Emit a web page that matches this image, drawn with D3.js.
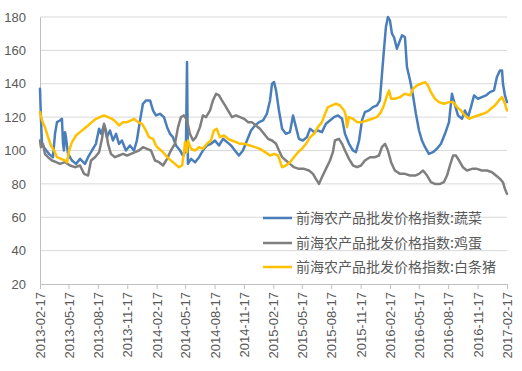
<!DOCTYPE html>
<html>
<head>
<meta charset="utf-8">
<script src="https://cdn.jsdelivr.net/npm/d3@7"></script>
<style>
  body { margin: 0; background: #fff; }
  .tick-label { font-family: "Liberation Sans", Arial, sans-serif; font-size: 13px; fill: #595959; }
  .legend-label { font-family: "Noto Sans CJK SC", sans-serif; font-size: 14px; fill: #595959; }
</style>
</head>
<body>
<svg id="chart"></svg>
<script>
// weeks since 2013-02-17, index value
const startDate = "2013-02-17";

const tickLabels = ["2013-02-17", "2013-05-17", "2013-08-17", "2013-11-17", "2014-02-17",
  "2014-05-17", "2014-08-17", "2014-11-17", "2015-02-17", "2015-05-17", "2015-08-17",
  "2015-11-17", "2016-02-17", "2016-05-17", "2016-08-17", "2016-11-17", "2017-02-17"];

const yTicks = [20, 40, 60, 80, 100, 120, 140, 160, 180];

const seriesNames = ["前海农产品批发价格指数:蔬菜", "前海农产品批发价格指数:鸡蛋", "前海农产品批发价格指数:白条猪"];

const vegetable = [
  [0, 137], [0.4, 120], [0.9, 104], [2.2, 101], [4, 98], [5.8, 96], [6.7, 110], [7.6, 117],
  [8.9, 118], [9.8, 119], [10.3, 104], [10.7, 100], [11.2, 111], [11.6, 108], [12.5, 98],
  [14.3, 94], [16.1, 92], [17.9, 95], [20.1, 92], [21.5, 96], [23.2, 100], [25, 104],
  [26.4, 113], [27.3, 110], [28.6, 115], [29.9, 108], [31.3, 112], [32.6, 106], [34, 110],
  [35.3, 104], [36.6, 106], [38.4, 100], [40.2, 103], [42, 100], [43.3, 106], [44.7, 118],
  [46, 128], [47.4, 130], [49.2, 130], [50.5, 124], [51.8, 121], [53.6, 122], [55.4, 120],
  [56.8, 114], [58.1, 110], [59.4, 108], [60.8, 103], [62.6, 100], [63.9, 97], [65.2, 100],
  [65.7, 153], [66.1, 92], [67.5, 95], [69.3, 93], [71.1, 96], [72.8, 100], [74.6, 103],
  [76.4, 104], [78.2, 106], [80, 103], [81.8, 107], [83.6, 105], [85.4, 103], [87.1, 100],
  [88.9, 97], [90.7, 100], [92.5, 106], [94.3, 112], [96.1, 115], [97.9, 117], [99.7, 118],
  [101.4, 122], [102.8, 130], [103.7, 140], [104.6, 141], [105.5, 136], [106.8, 124],
  [108.2, 113], [109.9, 110], [111.7, 111], [113.1, 121], [114.4, 114], [115.7, 107],
  [117.5, 106], [119.3, 108], [120.7, 113], [122.5, 111], [124.2, 112], [126, 111],
  [127.8, 116], [129.6, 118], [131.4, 120], [133.2, 121], [135, 119], [136.3, 110],
  [138.1, 104], [139.9, 100], [141.2, 99], [142.6, 106], [143.9, 118], [145.2, 123],
  [147, 124], [148.8, 126], [150.6, 127], [151.9, 130], [152.8, 145], [153.7, 160],
  [154.6, 174], [155.5, 180], [156.4, 178], [157.3, 170], [158.2, 168], [159.5, 161],
  [160.9, 166], [161.8, 169], [163.1, 168], [164, 150], [165.4, 142], [166.7, 133],
  [168, 122], [169.4, 112], [170.7, 106], [172.1, 102], [173.8, 98], [175.6, 99],
  [177.4, 101], [179.2, 104], [181, 110], [182.8, 117], [184.1, 134], [185.5, 127],
  [186.8, 121], [188.6, 119], [189.9, 124], [191.3, 120], [192.6, 126], [194, 133],
  [195.7, 131], [197.5, 132], [199.3, 133], [201.1, 135], [202.9, 136], [204.2, 144],
  [205.6, 148], [206.5, 148], [206.9, 140], [207.8, 133], [208.7, 129]
];

const egg = [
  [0, 106], [0.4, 102], [1.3, 104], [2.2, 98], [3.6, 96], [5.4, 94], [7.2, 93], [8.9, 92],
  [11.2, 93], [13.4, 91], [15.6, 90], [17.9, 91], [19.7, 86], [21.5, 85], [22.8, 94],
  [24.6, 96], [26.4, 99], [27.7, 107], [28.6, 116], [29.5, 112], [30.4, 104], [31.7, 98],
  [33.5, 96], [35.3, 97], [37.1, 98], [38.9, 97], [40.7, 98], [42.5, 99], [44.2, 100],
  [46, 102], [47.8, 101], [49.6, 100], [51.4, 94], [53.2, 93], [55, 91], [56.8, 95],
  [58.5, 100], [60.3, 104], [61.7, 114], [63, 120], [64.4, 121], [65.7, 118], [67, 110],
  [68.4, 106], [69.7, 108], [71.5, 114], [72.8, 121], [74.2, 120], [76, 124], [77.3, 130],
  [78.7, 134], [80, 133], [81.3, 130], [82.7, 127], [84, 124], [85.8, 120], [87.6, 121],
  [89.4, 120], [91.2, 119], [93, 117], [94.7, 117], [96.5, 115], [98.3, 113], [100.1, 110],
  [101.9, 107], [103.7, 106], [105.5, 104], [106.8, 100], [108.2, 96], [109.9, 94],
  [111.7, 92], [113.5, 90], [115.7, 89], [118, 89], [120.2, 88], [122, 86], [123.3, 83],
  [124.7, 80], [126, 84], [127.8, 89], [129.6, 94], [130.9, 99], [131.8, 106], [133.6, 107],
  [135, 104], [136.3, 100], [138.1, 95], [139.9, 91], [141.7, 90], [143.5, 91], [145.2, 94],
  [147.5, 96], [149.7, 96], [151.5, 97], [152.8, 102], [154.2, 104], [155.5, 100],
  [156.9, 93], [158.6, 88], [160.9, 86], [163.1, 86], [165.4, 85], [167.6, 85], [169.4, 86],
  [171.2, 88], [173, 85], [174.7, 81], [176.5, 80], [178.8, 80], [180.5, 81], [181.9, 85],
  [183.2, 91], [184.6, 97], [185.9, 97], [187.3, 94], [189, 90], [190.8, 88], [193.1, 89],
  [195.3, 89], [197.5, 88], [199.8, 88], [202, 87], [203.8, 85], [205.6, 83], [206.9, 81],
  [207.8, 77], [208.7, 74]
];

const pork = [
  [0, 123], [0.9, 118], [2.2, 114], [3.6, 108], [4.9, 103], [6.3, 100], [7.6, 96], [9.4, 95],
  [11.2, 94], [12.1, 93], [13, 100], [14.3, 105], [16.1, 109], [17.9, 111], [19.7, 113],
  [21.5, 115], [23.2, 117], [25, 119], [26.8, 120], [28.6, 121], [30.4, 120], [32.2, 119],
  [34, 117], [35.3, 115], [37.1, 117], [38.9, 117], [40.7, 118], [42, 119], [43.8, 117],
  [45.6, 116], [46.9, 113], [48.7, 108], [50.5, 107], [51.8, 103], [53.2, 101], [55, 99],
  [56.8, 96], [58.5, 94], [60.3, 92], [62.1, 90], [63.5, 91], [64.4, 99], [64.8, 105],
  [65.7, 99], [66.1, 106], [67.5, 101], [69.3, 100], [71.1, 102], [72.8, 101], [74.6, 104],
  [76.4, 106], [77.7, 112], [79, 113], [80.4, 108], [82.2, 109], [84, 107], [85.8, 106],
  [87.6, 105], [89.4, 104], [91.6, 104], [93.8, 103], [96.1, 102], [98.3, 101], [100.6, 99],
  [102.8, 97], [104.6, 98], [106.4, 97], [108.2, 90], [109.9, 91], [111.7, 93], [113.5, 96],
  [115.3, 99], [117.1, 101], [118.9, 104], [120.7, 108], [122.5, 110], [124.2, 114],
  [126, 117], [127.4, 122], [128.7, 126], [130.5, 127], [132.3, 128], [134.1, 127],
  [135.9, 124], [136.7, 121], [137.2, 114], [138.1, 120], [139.9, 119], [141.7, 117],
  [143.9, 117], [146.1, 118], [148.4, 119], [150.6, 120], [152.4, 123], [153.7, 127],
  [155.1, 133], [156, 136], [156.9, 131], [158.6, 131], [160.9, 132], [163.1, 134],
  [165.4, 133], [166.7, 137], [168.5, 139], [170.3, 140], [172.1, 141], [173.4, 139],
  [174.7, 135], [176.5, 131], [178.3, 129], [180.5, 128], [182.8, 129], [184.6, 129],
  [186.4, 126], [188.1, 124], [189.9, 121], [191.8, 119], [193.5, 120], [195.7, 121],
  [198, 122], [199.8, 123], [201.5, 125], [203.3, 127], [205.1, 130], [206.5, 132],
  [207.8, 128], [208.7, 124]
];

const colors = ["#4a7ebb", "#7f7f7f", "#ffc000"];

const width = 522, height = 371;
const margin = { top: 17, right: 15, bottom: 87, left: 40 };

const parse = d3.timeParse("%Y-%m-%d");
const start = parse(startDate);
const toDate = w => d3.timeHour.offset(start, Math.round(w * 7 * 24));

const svg = d3.select("#chart")
    .attr("width", width)
    .attr("height", height);

const xScale = d3.scaleTime()
    .domain([parse(tickLabels[0]), parse(tickLabels[tickLabels.length - 1])])
    .range([margin.left, width - margin.right]);

const yScale = d3.scaleLinear()
    .domain([20, 180])
    .range([height - margin.bottom, margin.top]);

// gridlines
svg.append("g")
  .selectAll("line")
  .data(yTicks.slice(1))
  .join("line")
    .attr("x1", margin.left)
    .attr("x2", width - margin.right)
    .attr("y1", d => yScale(d))
    .attr("y2", d => yScale(d))
    .attr("stroke", "#d9d9d9")
    .attr("stroke-width", 1);

// y axis
const yAxis = d3.axisLeft(yScale)
    .tickValues(yTicks)
    .tickSize(0)
    .tickPadding(14);

const yAxisG = svg.append("g")
    .attr("transform", `translate(${margin.left},0)`)
    .call(yAxis);
yAxisG.select(".domain").attr("stroke", "#bfbfbf");
yAxisG.selectAll("text").attr("class", "tick-label").attr("fill", null);

// x axis
const xAxis = d3.axisBottom(xScale)
    .tickValues(tickLabels.map(parse))
    .tickSize(5)
    .tickSizeOuter(0)
    .tickFormat(d3.timeFormat("%Y-%m-%d"));

const xAxisG = svg.append("g")
    .attr("transform", `translate(0,${height - margin.bottom})`)
    .call(xAxis);
xAxisG.select(".domain").attr("stroke", "#bfbfbf");
xAxisG.selectAll(".tick line").attr("stroke", "#bfbfbf");
xAxisG.selectAll("text")
    .attr("class", "tick-label")
    .attr("fill", null)
    .attr("transform", "rotate(-90)")
    .attr("x", -8)
    .attr("y", 0)
    .attr("dy", "0.35em")
    .style("text-anchor", "end");

// lines
const line = d3.line()
    .x(d => xScale(toDate(d[0])))
    .y(d => yScale(d[1]));

[vegetable, egg, pork].forEach((s, i) => {
  svg.append("path")
    .datum(s)
    .attr("d", line)
    .attr("fill", "none")
    .attr("stroke", colors[i])
    .attr("stroke-width", 2.5)
    .attr("stroke-linejoin", "round")
    .attr("stroke-linecap", "round");
});

// legend
const legend = svg.append("g");
const legendY = [218, 243, 267];
seriesNames.forEach((name, i) => {
  legend.append("line")
    .attr("x1", 263).attr("x2", 292)
    .attr("y1", legendY[i]).attr("y2", legendY[i])
    .attr("stroke", colors[i])
    .attr("stroke-width", 2.5);
  legend.append("text")
    .attr("class", "legend-label")
    .attr("x", 296)
    .attr("y", legendY[i])
    .attr("dy", "0.36em")
    .text(name);
});
</script>
</body>
</html>
